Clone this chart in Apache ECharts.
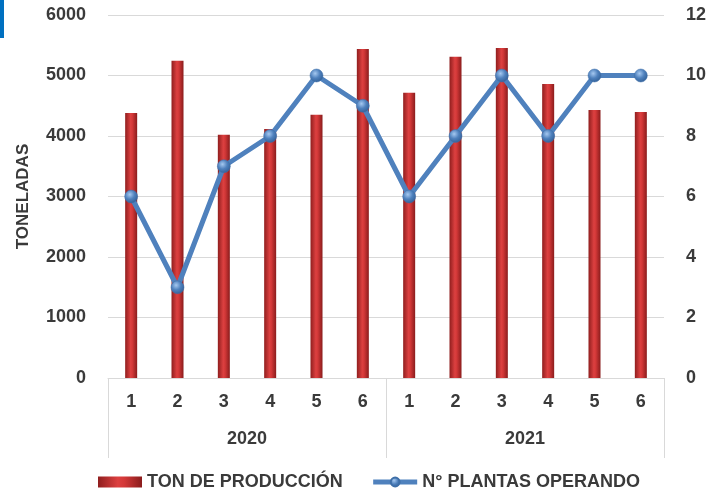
<!DOCTYPE html>
<html><head><meta charset="utf-8">
<script src="https://cdn.jsdelivr.net/npm/echarts@6/dist/echarts.min.js"></script>
<style>html,body{margin:0;padding:0;background:#fff}#c{width:721px;height:491px}</style>
</head><body><div id="c"></div>
<script>
const months = ['1','2','3','4','5','6','1','2','3','4','5','6'];
const years = ['2020','2021'];
const tonProduccion = [4380, 5245, 4022, 4116, 4352, 5438, 4716, 5311, 5455, 4860, 4430, 4397];
const plantasOperando = [6, 3, 7, 8, 10, 9, 6, 8, 10, 8, 10, 10];
const leftTicks = {min: 0, max: 6000, interval: 1000};
const rightTicks = {min: 0, max: 12, interval: 2};

const FONT = "'Liberation Sans', Arial, sans-serif";
const TXT = '#3a3a3a';
const FS = 18;
const chart = echarts.init(document.getElementById('c'));
const barGrad = new echarts.graphic.LinearGradient(0,0,1,0,[
  {offset:0,color:'#901e1e'},{offset:0.45,color:'#dc4040'},{offset:0.6,color:'#d33838'},{offset:1,color:'#8a1c1c'}]);
const dotGrad = new echarts.graphic.RadialGradient(0.4,0.35,0.7,[
  {offset:0,color:'#a5c8f0'},{offset:0.5,color:'#4f81bd'},{offset:1,color:'#2f5d94'}]);
const lbl = {fontSize:FS,fontWeight:'bold',color:TXT,fontFamily:FONT};
chart.setOption({
  animation:false,
  textStyle:{fontFamily:FONT},
  graphic:[{type:'rect',left:0,top:0,shape:{width:4,height:38},style:{fill:'#0070c0'}}],
  grid:{left:108,right:57,top:15,bottom:113},
  legend:{left:93,top:468,itemWidth:44,itemHeight:11,itemGap:28,
    textStyle:Object.assign({},lbl),
    data:[{name:'TON DE PRODUCCIÓN',icon:'rect'},{name:'N° PLANTAS OPERANDO',lineStyle:{width:5}}]},
  xAxis:[
    {type:'category',data:months,position:'bottom',
     axisLine:{show:true,lineStyle:{color:'#d9d9d9'}},axisTick:{show:false},
     axisLabel:Object.assign({margin:15},lbl)},
    {type:'category',data:years,position:'bottom',
     axisLine:{show:false},axisTick:{show:true,length:80,alignWithLabel:false,lineStyle:{color:'#d9d9d9'}},
     axisLabel:Object.assign({margin:52},lbl)}
  ],
  yAxis:[
    {type:'value',min:leftTicks.min,max:leftTicks.max,interval:leftTicks.interval,
     name:'TONELADAS',nameLocation:'middle',nameGap:76,nameRotate:90,
     nameTextStyle:Object.assign({},lbl,{fontSize:17}),
     axisLine:{show:false},axisTick:{show:false},
     axisLabel:Object.assign({margin:22,formatter:v=>String(v)},lbl),
     splitLine:{lineStyle:{color:'#d9d9d9'}}},
    {type:'value',min:rightTicks.min,max:rightTicks.max,interval:rightTicks.interval,position:'right',
     axisLine:{show:false},axisTick:{show:false},splitLine:{show:false},
     axisLabel:Object.assign({margin:22,formatter:v=>String(v)},lbl)}
  ],
  series:[
    {name:'TON DE PRODUCCIÓN',type:'bar',xAxisIndex:0,yAxisIndex:0,data:tonProduccion,barWidth:12,
     itemStyle:{color:barGrad}},
    {name:'N° PLANTAS OPERANDO',type:'line',xAxisIndex:0,yAxisIndex:1,data:plantasOperando,
     symbol:'circle',symbolSize:13,lineStyle:{color:'#4f81bd',width:5},
     itemStyle:{color:dotGrad,borderColor:'#3e6fa8',borderWidth:0.5}}
  ]
});
</script></body></html>
